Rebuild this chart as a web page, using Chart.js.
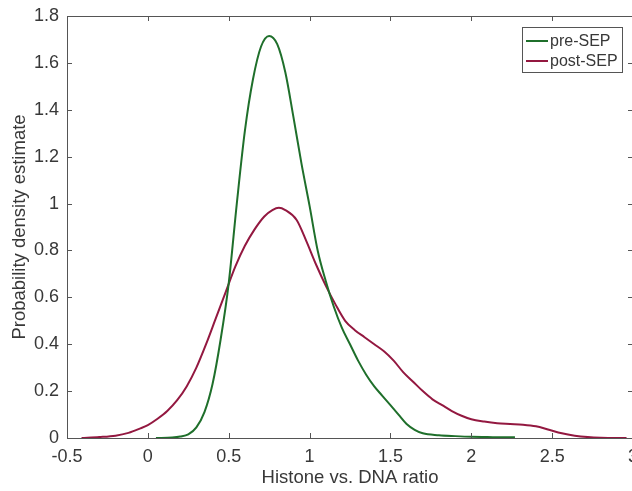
<!DOCTYPE html>
<html>
<head>
<meta charset="utf-8">
<script src="https://cdn.jsdelivr.net/npm/chart.js@4/dist/chart.umd.min.js"></script>
<style>
  html, body { margin: 0; padding: 0; background: #fff; overflow: hidden; }
  #wrap { width: 632px; height: 491px; overflow: hidden; }
</style>
</head>
<body>
<div id="wrap"><canvas id="chart" width="660" height="491"></canvas></div>
<script>
// pre-SEP density curve
const preX = [0.05, 0.15, 0.2, 0.25, 0.3, 0.35, 0.4, 0.45, 0.5, 0.55, 0.6, 0.65, 0.7, 0.75,
              0.8, 0.85, 0.9, 0.95, 1.0, 1.05, 1.1, 1.15, 1.2, 1.25, 1.3, 1.35, 1.4, 1.45,
              1.5, 1.55, 1.6, 1.65, 1.7, 1.8, 1.9, 2.0, 2.1, 2.2, 2.27];
const preY = [0.0, 0.002, 0.006, 0.015, 0.045, 0.11, 0.23, 0.42, 0.66, 1.0, 1.31, 1.53, 1.67, 1.715,
              1.68, 1.56, 1.37, 1.17, 0.99, 0.80, 0.67, 0.56, 0.47, 0.40, 0.33, 0.27, 0.22, 0.18,
              0.14, 0.10, 0.06, 0.035, 0.02, 0.012, 0.008, 0.005, 0.004, 0.003, 0.003];

// post-SEP density curve
const postX = [-0.41, -0.3, -0.2, -0.12, -0.05, 0, 0.06, 0.12, 0.18, 0.24, 0.3, 0.36, 0.42, 0.48,
               0.54, 0.6, 0.66, 0.72, 0.77, 0.81, 0.85, 0.92, 0.98, 1.04, 1.1, 1.16, 1.22, 1.28,
               1.34, 1.4, 1.46, 1.52, 1.58, 1.64, 1.7, 1.76, 1.82, 1.88, 1.94, 2.0, 2.08, 2.16,
               2.24, 2.32, 2.4, 2.48, 2.56, 2.64, 2.72, 2.8, 2.9, 2.96];
const postY = [0.0, 0.004, 0.01, 0.022, 0.04, 0.055, 0.082, 0.115, 0.16, 0.22, 0.30, 0.40, 0.51, 0.62,
               0.73, 0.82, 0.89, 0.945, 0.972, 0.982, 0.972, 0.93, 0.84, 0.74, 0.65, 0.57, 0.50, 0.46,
               0.43, 0.40, 0.37, 0.33, 0.28, 0.24, 0.20, 0.165, 0.14, 0.115, 0.095, 0.08, 0.07, 0.063,
               0.06, 0.057, 0.05, 0.035, 0.02, 0.01, 0.004, 0.001, 0.0, 0.0];

const seriesNames = ['pre-SEP', 'post-SEP'];
const seriesColors = ['#1f6f2b', '#931840'];

const xMin = -0.5, xMax = 3, xStep = 0.5;
const yMin = 0, yMax = 1.8, yStep = 0.2;

const FONT = "'Liberation Sans', Arial, sans-serif";
const TEXT = '#383838';
const AXIS = '#555';

const toPoints = (xs, ys) => xs.map((x, i) => ({x, y: ys[i]}));
const fmt = v => String(+v.toFixed(2));

// box round the plot plus inward tick marks on all four sides
const boxPlugin = {
    id: 'box',
    afterDatasetsDraw(chart) {
        const {ctx, chartArea: a, scales} = chart;
        ctx.save();
        ctx.strokeStyle = AXIS;
        ctx.lineWidth = 1;
        ctx.strokeRect(a.left + 0.5, a.top + 0.5, a.right - a.left, a.bottom - a.top);
        ctx.beginPath();
        scales.x.ticks.forEach(t => {
            const px = Math.round(scales.x.getPixelForValue(t.value)) + 0.5;
            ctx.moveTo(px, a.bottom); ctx.lineTo(px, a.bottom - 5);
            ctx.moveTo(px, a.top); ctx.lineTo(px, a.top + 5);
        });
        scales.y.ticks.forEach(t => {
            const py = Math.round(scales.y.getPixelForValue(t.value)) + 0.5;
            ctx.moveTo(a.left, py); ctx.lineTo(a.left + 5, py);
            ctx.moveTo(a.right, py); ctx.lineTo(a.right - 5, py);
        });
        ctx.stroke();
        ctx.restore();
    }
};

// legend box inside the top right corner
const legendPlugin = {
    id: 'insideLegend',
    afterDraw(chart) {
        const {ctx} = chart;
        const x0 = 522, y0 = 27, w = 100, h = 45;
        ctx.save();
        ctx.fillStyle = '#fff';
        ctx.fillRect(x0, y0, w, h);
        ctx.strokeStyle = AXIS;
        ctx.lineWidth = 1;
        ctx.strokeRect(x0 + 0.5, y0 + 0.5, w, h);
        ctx.font = '16px ' + FONT;
        ctx.textBaseline = 'middle';
        chart.data.datasets.forEach((ds, i) => {
            const cy = y0 + 14 + i * 20;
            ctx.strokeStyle = ds.borderColor;
            ctx.lineWidth = 2;
            ctx.beginPath();
            ctx.moveTo(x0 + 4, cy); ctx.lineTo(x0 + 26, cy);
            ctx.stroke();
            ctx.fillStyle = TEXT;
            ctx.fillText(ds.label, x0 + 28, cy + 1);
        });
        ctx.restore();
    }
};

new Chart(document.getElementById('chart'), {
    type: 'scatter',
    data: {
        datasets: [
            {label: seriesNames[0], data: toPoints(preX, preY), borderColor: seriesColors[0]},
            {label: seriesNames[1], data: toPoints(postX, postY), borderColor: seriesColors[1]}
        ].map(d => ({...d, showLine: true, pointRadius: 0, borderWidth: 2,
                     cubicInterpolationMode: 'monotone', backgroundColor: d.borderColor}))
    },
    options: {
        responsive: false,
        animation: false,
        layout: {padding: {top: 16, right: 27, left: 0, bottom: 0}},
        plugins: {legend: {display: false}, tooltip: {enabled: false}},
        scales: {
            x: {
                type: 'linear', min: xMin, max: xMax,
                afterFit(s) { s.height = 53; s.paddingLeft = 0; s.paddingRight = 0; },
                border: {display: false},
                grid: {display: false, drawTicks: false},
                ticks: {stepSize: xStep, padding: 8, color: TEXT, font: {family: FONT, size: 18},
                        callback: fmt},
                title: {display: true, text: 'Histone vs. DNA ratio', color: TEXT,
                        font: {family: FONT, size: 18.5}, padding: {top: 0, bottom: 2}}
            },
            y: {
                type: 'linear', min: yMin, max: yMax,
                afterFit(s) { s.width = 67; s.paddingTop = 0; s.paddingBottom = 0; },
                border: {display: false},
                grid: {display: false, drawTicks: false},
                ticks: {stepSize: yStep, padding: 8, color: TEXT, font: {family: FONT, size: 18},
                        callback: fmt},
                title: {display: true, text: 'Probability density estimate', color: TEXT,
                        font: {family: FONT, size: 18.5}, padding: {top: 9, bottom: 0}}
            }
        }
    },
    plugins: [boxPlugin, legendPlugin]
});
</script>
</body>
</html>
